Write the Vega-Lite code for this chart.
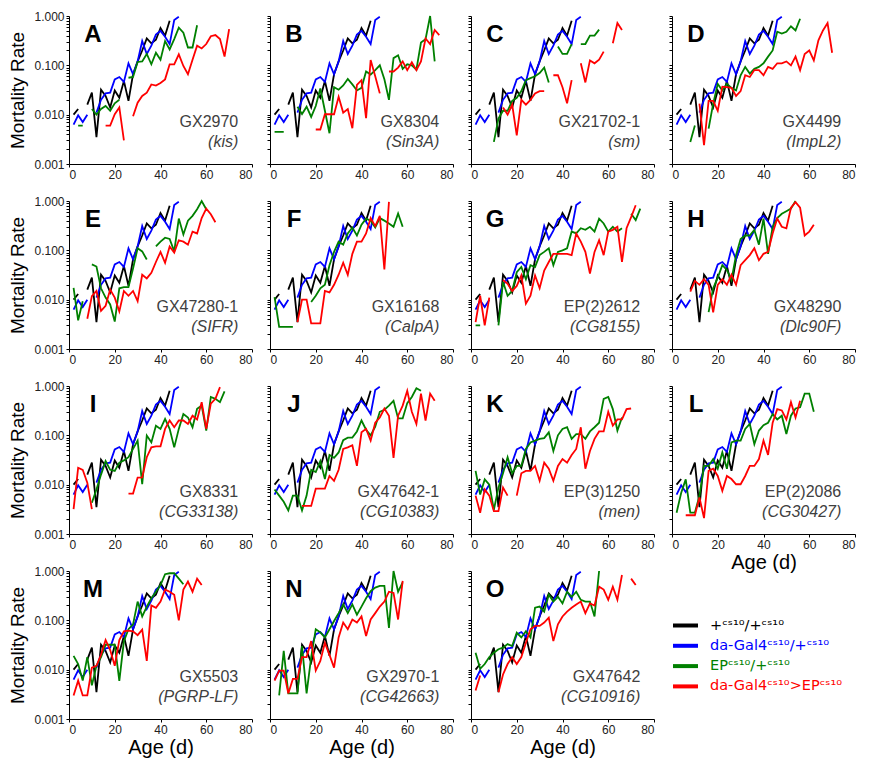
{
"$schema":"https://vega.github.io/schema/vega-lite/v6.json",
"padding":{"left":8,"top":10,"right":5,"bottom":5},
"columns":4,
"spacing":{"row":37,"column":18},
"bounds":"flush",
"datasets":{
"ctrl":[{"s":"a","a":2,"m":0.010},{"s":"a","a":4,"m":0.013},{"s":"a","a":6,"m":null},{"s":"a","a":8,"m":0.016},{"s":"a","a":10,"m":0.028},{"s":"a","a":12,"m":0.0035},{"s":"a","a":14,"m":0.032},{"s":"a","a":16,"m":0.024},{"s":"a","a":18,"m":0.014},{"s":"a","a":20,"m":0.031},{"s":"a","a":22,"m":0.022},{"s":"a","a":24,"m":0.048},{"s":"a","a":26,"m":0.019},{"s":"a","a":28,"m":0.066},{"s":"a","a":30,"m":0.12},{"s":"a","a":32,"m":0.2},{"s":"a","a":34,"m":0.35},{"s":"a","a":36,"m":0.28},{"s":"a","a":38,"m":0.33},{"s":"a","a":40,"m":0.57},{"s":"a","a":42,"m":0.4},{"s":"a","a":44,"m":0.8},
{"s":"b","a":2,"m":0.0063},{"s":"b","a":4,"m":0.0097},{"s":"b","a":6,"m":0.0071},{"s":"b","a":8,"m":0.0100},{"s":"b","a":10,"m":null},{"s":"b","a":12,"m":0.011},{"s":"b","a":14,"m":0.020},{"s":"b","a":16,"m":0.027},{"s":"b","a":18,"m":0.028},{"s":"b","a":20,"m":0.052},{"s":"b","a":22,"m":0.058},{"s":"b","a":24,"m":0.046},{"s":"b","a":26,"m":0.11},{"s":"b","a":28,"m":0.066},{"s":"b","a":30,"m":0.12},{"s":"b","a":32,"m":0.31},{"s":"b","a":34,"m":0.17},{"s":"b","a":36,"m":0.25},{"s":"b","a":38,"m":0.42},{"s":"b","a":40,"m":0.5},{"s":"b","a":42,"m":0.38},{"s":"b","a":44,"m":0.27},{"s":"b","a":46,"m":0.83},{"s":"b","a":48,"m":0.97}],
"A":[{"s":"c","a":4,"m":0.006},{"s":"c","a":6,"m":0.006},{"s":"c","a":8,"m":null},{"s":"c","a":10,"m":0.013},{"s":"c","a":12,"m":0.010},{"s":"c","a":14,"m":0.013},{"s":"c","a":16,"m":0.015},{"s":"c","a":18,"m":0.012},{"s":"c","a":20,"m":0.017},{"s":"c","a":22,"m":0.020},{"s":"c","a":24,"m":null},{"s":"c","a":26,"m":0.056},{"s":"c","a":28,"m":0.058},{"s":"c","a":30,"m":0.117},{"s":"c","a":32,"m":0.12},{"s":"c","a":34,"m":0.17},{"s":"c","a":36,"m":0.105},{"s":"c","a":38,"m":0.18},{"s":"c","a":40,"m":0.13},{"s":"c","a":42,"m":0.31},{"s":"c","a":44,"m":0.21},{"s":"c","a":46,"m":0.34},{"s":"c","a":48,"m":0.58},{"s":"c","a":50,"m":0.46},{"s":"c","a":52,"m":0.23},{"s":"c","a":54,"m":0.23},{"s":"c","a":56,"m":0.65},
{"s":"d","a":16,"m":0.006},{"s":"d","a":18,"m":0.006},{"s":"d","a":20,"m":0.0102},{"s":"d","a":22,"m":0.014},{"s":"d","a":24,"m":0.003},{"s":"d","a":26,"m":null},{"s":"d","a":28,"m":0.0093},{"s":"d","a":30,"m":0.0175},{"s":"d","a":32,"m":0.024},{"s":"d","a":34,"m":0.028},{"s":"d","a":36,"m":0.041},{"s":"d","a":38,"m":0.039},{"s":"d","a":40,"m":0.044},{"s":"d","a":42,"m":0.052},{"s":"d","a":44,"m":0.105},{"s":"d","a":46,"m":0.105},{"s":"d","a":48,"m":0.167},{"s":"d","a":50,"m":0.097},{"s":"d","a":52,"m":0.066},{"s":"d","a":54,"m":0.13},{"s":"d","a":56,"m":0.25},{"s":"d","a":58,"m":0.22},{"s":"d","a":60,"m":0.27},{"s":"d","a":62,"m":0.39},{"s":"d","a":64,"m":0.41},{"s":"d","a":66,"m":0.34},{"s":"d","a":68,"m":0.15},{"s":"d","a":70,"m":0.54}],
"B":[{"s":"c","a":2,"m":0.0045},{"s":"c","a":4,"m":0.0045},{"s":"c","a":6,"m":0.0045},{"s":"c","a":10,"m":null},{"s":"c","a":12,"m":0.0145},{"s":"c","a":14,"m":0.0103},{"s":"c","a":16,"m":0.0145},{"s":"c","a":18,"m":0.009},{"s":"c","a":20,"m":0.015},{"s":"c","a":22,"m":0.034},{"s":"c","a":24,"m":0.012},{"s":"c","a":26,"m":0.0042},{"s":"c","a":28,"m":0.036},{"s":"c","a":30,"m":0.032},{"s":"c","a":32,"m":0.039},{"s":"c","a":34,"m":0.053},{"s":"c","a":36,"m":0.041},{"s":"c","a":38,"m":0.031},{"s":"c","a":40,"m":0.035},{"s":"c","a":42,"m":0.075},{"s":"c","a":44,"m":0.065},{"s":"c","a":46,"m":0.08},{"s":"c","a":48,"m":0.1},{"s":"c","a":50,"m":0.052},{"s":"c","a":52,"m":0.02},{"s":"c","a":54,"m":0.14},{"s":"c","a":56,"m":0.16},{"s":"c","a":58,"m":0.085},{"s":"c","a":60,"m":0.105},{"s":"c","a":62,"m":0.1},{"s":"c","a":64,"m":0.082},{"s":"c","a":66,"m":0.29},{"s":"c","a":68,"m":0.34},{"s":"c","a":70,"m":1.0},{"s":"c","a":72,"m":0.12},
{"s":"d","a":20,"m":0.005},{"s":"d","a":22,"m":0.005},{"s":"d","a":24,"m":0.0102},{"s":"d","a":26,"m":0.0102},{"s":"d","a":28,"m":0.0102},{"s":"d","a":30,"m":0.023},{"s":"d","a":32,"m":0.011},{"s":"d","a":34,"m":0.013},{"s":"d","a":36,"m":0.0053},{"s":"d","a":38,"m":0.04},{"s":"d","a":40,"m":0.05},{"s":"d","a":42,"m":0.0085},{"s":"d","a":44,"m":0.128},{"s":"d","a":46,"m":0.06},{"s":"d","a":48,"m":0.027},{"s":"d","a":50,"m":null},{"s":"d","a":52,"m":0.075},{"s":"d","a":54,"m":0.075},{"s":"d","a":56,"m":0.09},{"s":"d","a":58,"m":0.12},{"s":"d","a":60,"m":0.08},{"s":"d","a":62,"m":0.115},{"s":"d","a":64,"m":0.08},{"s":"d","a":66,"m":0.12},{"s":"d","a":68,"m":0.35},{"s":"d","a":70,"m":0.27},{"s":"d","a":72,"m":0.52},{"s":"d","a":74,"m":0.41}],
"C":[{"s":"c","a":10,"m":0.0028},{"s":"c","a":12,"m":0.0083},{"s":"c","a":14,"m":0.012},{"s":"c","a":16,"m":0.012},{"s":"c","a":18,"m":0.019},{"s":"c","a":20,"m":0.022},{"s":"c","a":22,"m":0.03},{"s":"c","a":24,"m":0.05},{"s":"c","a":26,"m":0.055},{"s":"c","a":28,"m":0.06},{"s":"c","a":30,"m":0.07},{"s":"c","a":32,"m":0.09},{"s":"c","a":34,"m":0.045},{"s":"c","a":36,"m":null},{"s":"c","a":38,"m":0.24},{"s":"c","a":40,"m":0.17},{"s":"c","a":42,"m":0.17},{"s":"c","a":44,"m":0.27},{"s":"c","a":46,"m":null},{"s":"c","a":48,"m":0.27},{"s":"c","a":50,"m":0.27},{"s":"c","a":52,"m":0.4},{"s":"c","a":54,"m":0.4},{"s":"c","a":56,"m":0.53},
{"s":"d","a":14,"m":0.014},{"s":"d","a":16,"m":0.010},{"s":"d","a":18,"m":0.016},{"s":"d","a":20,"m":0.0038},{"s":"d","a":22,"m":0.02},{"s":"d","a":24,"m":0.016},{"s":"d","a":26,"m":0.02},{"s":"d","a":28,"m":0.027},{"s":"d","a":30,"m":0.03},{"s":"d","a":32,"m":0.03},{"s":"d","a":34,"m":null},{"s":"d","a":36,"m":0.063},{"s":"d","a":38,"m":0.063},{"s":"d","a":40,"m":0.036},{"s":"d","a":42,"m":0.017},{"s":"d","a":44,"m":0.05},{"s":"d","a":46,"m":null},{"s":"d","a":48,"m":0.11},{"s":"d","a":50,"m":0.045},{"s":"d","a":52,"m":0.126},{"s":"d","a":54,"m":0.11},{"s":"d","a":56,"m":0.13},{"s":"d","a":58,"m":0.19},{"s":"d","a":60,"m":null},{"s":"d","a":62,"m":0.28},{"s":"d","a":64,"m":0.72},{"s":"d","a":66,"m":0.52}],
"D":[{"s":"c","a":8,"m":0.0028},{"s":"c","a":10,"m":0.006},{"s":"c","a":12,"m":null},{"s":"c","a":16,"m":0.0052},{"s":"c","a":18,"m":0.0167},{"s":"c","a":20,"m":0.042},{"s":"c","a":22,"m":0.031},{"s":"c","a":24,"m":0.042},{"s":"c","a":26,"m":0.035},{"s":"c","a":28,"m":0.031},{"s":"c","a":30,"m":0.063},{"s":"c","a":32,"m":0.093},{"s":"c","a":34,"m":0.068},{"s":"c","a":36,"m":0.085},{"s":"c","a":38,"m":0.093},{"s":"c","a":40,"m":0.11},{"s":"c","a":42,"m":0.15},{"s":"c","a":44,"m":0.2},{"s":"c","a":46,"m":0.48},{"s":"c","a":48,"m":0.44},{"s":"c","a":50,"m":0.48},{"s":"c","a":52,"m":0.62},{"s":"c","a":54,"m":0.51},{"s":"c","a":56,"m":0.88},
{"s":"d","a":12,"m":0.0167},{"s":"d","a":14,"m":0.0024},{"s":"d","a":16,"m":0.019},{"s":"d","a":18,"m":0.019},{"s":"d","a":20,"m":0.012},{"s":"d","a":22,"m":0.037},{"s":"d","a":24,"m":0.036},{"s":"d","a":26,"m":0.035},{"s":"d","a":28,"m":0.024},{"s":"d","a":30,"m":0.03},{"s":"d","a":32,"m":0.063},{"s":"d","a":34,"m":0.058},{"s":"d","a":36,"m":0.08},{"s":"d","a":38,"m":0.08},{"s":"d","a":40,"m":0.063},{"s":"d","a":42,"m":0.093},{"s":"d","a":44,"m":0.085},{"s":"d","a":46,"m":0.11},{"s":"d","a":48,"m":0.11},{"s":"d","a":50,"m":0.12},{"s":"d","a":52,"m":0.1},{"s":"d","a":54,"m":0.15},{"s":"d","a":56,"m":0.08},{"s":"d","a":58,"m":0.17},{"s":"d","a":60,"m":0.2},{"s":"d","a":62,"m":0.126},{"s":"d","a":64,"m":0.32},{"s":"d","a":66,"m":0.51},{"s":"d","a":68,"m":0.72},{"s":"d","a":70,"m":0.18}],
"E":[{"s":"c","a":2,"m":0.0173},{"s":"c","a":4,"m":0.0038},{"s":"c","a":6,"m":0.0093},{"s":"c","a":8,"m":null},{"s":"c","a":10,"m":0.052},{"s":"c","a":12,"m":0.047},{"s":"c","a":14,"m":0.017},{"s":"c","a":16,"m":0.011},{"s":"c","a":18,"m":0.008},{"s":"c","a":20,"m":0.0036},{"s":"c","a":22,"m":0.017},{"s":"c","a":24,"m":0.018},{"s":"c","a":26,"m":0.018},{"s":"c","a":28,"m":0.043},{"s":"c","a":30,"m":0.11},{"s":"c","a":32,"m":0.095},{"s":"c","a":34,"m":0.065},{"s":"c","a":36,"m":null},{"s":"c","a":38,"m":0.12},{"s":"c","a":40,"m":0.15},{"s":"c","a":42,"m":0.18},{"s":"c","a":44,"m":0.17},{"s":"c","a":46,"m":0.095},{"s":"c","a":48,"m":0.44},{"s":"c","a":50,"m":0.21},{"s":"c","a":52,"m":0.4},{"s":"c","a":54,"m":0.5},{"s":"c","a":56,"m":0.68},{"s":"c","a":58,"m":1.0},{"s":"c","a":60,"m":0.68},
{"s":"d","a":8,"m":0.0041},{"s":"d","a":10,"m":0.0118},{"s":"d","a":12,"m":0.015},{"s":"d","a":14,"m":0.0059},{"s":"d","a":16,"m":0.0075},{"s":"d","a":18,"m":0.016},{"s":"d","a":20,"m":0.011},{"s":"d","a":22,"m":0.0058},{"s":"d","a":24,"m":0.015},{"s":"d","a":26,"m":0.012},{"s":"d","a":28,"m":0.015},{"s":"d","a":30,"m":0.0093},{"s":"d","a":32,"m":0.032},{"s":"d","a":34,"m":0.027},{"s":"d","a":36,"m":0.035},{"s":"d","a":38,"m":0.058},{"s":"d","a":40,"m":0.093},{"s":"d","a":42,"m":0.056},{"s":"d","a":44,"m":0.12},{"s":"d","a":46,"m":0.09},{"s":"d","a":48,"m":0.16},{"s":"d","a":50,"m":0.15},{"s":"d","a":52,"m":0.13},{"s":"d","a":54,"m":0.24},{"s":"d","a":56,"m":0.22},{"s":"d","a":58,"m":0.45},{"s":"d","a":60,"m":0.7},{"s":"d","a":62,"m":0.54},{"s":"d","a":64,"m":0.37}],
"F":[{"s":"c","a":2,"m":0.0113},{"s":"c","a":4,"m":0.0028},{"s":"c","a":6,"m":0.0028},{"s":"c","a":8,"m":0.0028},{"s":"c","a":10,"m":0.0028},{"s":"c","a":12,"m":null},{"s":"c","a":18,"m":0.009},{"s":"c","a":20,"m":0.012},{"s":"c","a":22,"m":0.017},{"s":"c","a":24,"m":0.02},{"s":"c","a":26,"m":0.05},{"s":"c","a":28,"m":0.093},{"s":"c","a":30,"m":0.15},{"s":"c","a":32,"m":0.13},{"s":"c","a":34,"m":0.22},{"s":"c","a":36,"m":0.29},{"s":"c","a":38,"m":0.2},{"s":"c","a":40,"m":0.33},{"s":"c","a":42,"m":0.44},{"s":"c","a":44,"m":0.4},{"s":"c","a":46,"m":0.29},{"s":"c","a":48,"m":0.45},{"s":"c","a":50,"m":0.4},{"s":"c","a":52,"m":0.35},{"s":"c","a":54,"m":0.3},{"s":"c","a":56,"m":0.56},{"s":"c","a":58,"m":0.3},
{"s":"d","a":12,"m":0.0035},{"s":"d","a":14,"m":0.01},{"s":"d","a":16,"m":0.01},{"s":"d","a":18,"m":0.0033},{"s":"d","a":20,"m":0.0033},{"s":"d","a":22,"m":0.0033},{"s":"d","a":24,"m":0.015},{"s":"d","a":26,"m":0.014},{"s":"d","a":28,"m":0.02},{"s":"d","a":30,"m":0.032},{"s":"d","a":32,"m":0.056},{"s":"d","a":34,"m":0.032},{"s":"d","a":36,"m":0.085},{"s":"d","a":38,"m":0.15},{"s":"d","a":40,"m":0.15},{"s":"d","a":42,"m":0.22},{"s":"d","a":44,"m":0.45},{"s":"d","a":46,"m":0.31},{"s":"d","a":48,"m":0.5},{"s":"d","a":50,"m":0.041},{"s":"d","a":52,"m":0.96}],
"G":[{"s":"c","a":2,"m":0.003},{"s":"c","a":4,"m":0.003},{"s":"c","a":6,"m":null},{"s":"c","a":12,"m":0.003},{"s":"c","a":14,"m":0.023},{"s":"c","a":16,"m":0.012},{"s":"c","a":18,"m":0.015},{"s":"c","a":20,"m":0.036},{"s":"c","a":22,"m":0.046},{"s":"c","a":24,"m":0.026},{"s":"c","a":26,"m":0.05},{"s":"c","a":28,"m":0.046},{"s":"c","a":30,"m":0.08},{"s":"c","a":32,"m":0.093},{"s":"c","a":34,"m":0.11},{"s":"c","a":36,"m":0.05},{"s":"c","a":38,"m":0.093},{"s":"c","a":40,"m":0.1},{"s":"c","a":42,"m":0.11},{"s":"c","a":44,"m":0.24},{"s":"c","a":46,"m":0.22},{"s":"c","a":48,"m":0.28},{"s":"c","a":50,"m":0.26},{"s":"c","a":52,"m":0.3},{"s":"c","a":54,"m":0.24},{"s":"c","a":56,"m":0.44},{"s":"c","a":58,"m":0.35},{"s":"c","a":60,"m":0.24},{"s":"c","a":62,"m":0.3},{"s":"c","a":64,"m":0.24},{"s":"c","a":66,"m":0.28},{"s":"c","a":68,"m":null},{"s":"c","a":70,"m":0.55},{"s":"c","a":72,"m":0.41},{"s":"c","a":74,"m":0.7},
{"s":"d","a":2,"m":0.0035},{"s":"d","a":4,"m":0.012},{"s":"d","a":6,"m":0.003},{"s":"d","a":8,"m":0.011},{"s":"d","a":10,"m":null},{"s":"d","a":14,"m":0.025},{"s":"d","a":16,"m":0.021},{"s":"d","a":18,"m":0.015},{"s":"d","a":20,"m":0.019},{"s":"d","a":22,"m":0.031},{"s":"d","a":24,"m":0.0083},{"s":"d","a":26,"m":0.012},{"s":"d","a":28,"m":0.031},{"s":"d","a":30,"m":0.017},{"s":"d","a":32,"m":0.039},{"s":"d","a":34,"m":0.058},{"s":"d","a":36,"m":0.085},{"s":"d","a":38,"m":0.085},{"s":"d","a":40,"m":0.085},{"s":"d","a":42,"m":0.085},{"s":"d","a":44,"m":0.08},{"s":"d","a":46,"m":0.22},{"s":"d","a":48,"m":0.15},{"s":"d","a":50,"m":0.093},{"s":"d","a":52,"m":0.034},{"s":"d","a":54,"m":0.093},{"s":"d","a":56,"m":0.16},{"s":"d","a":58,"m":0.08},{"s":"d","a":60,"m":0.24},{"s":"d","a":62,"m":0.26},{"s":"d","a":64,"m":0.3},{"s":"d","a":66,"m":0.058},{"s":"d","a":68,"m":0.28},{"s":"d","a":70,"m":0.47},{"s":"d","a":72,"m":0.82}],
"H":[{"s":"c","a":16,"m":0.0056},{"s":"c","a":18,"m":0.017},{"s":"c","a":20,"m":0.028},{"s":"c","a":22,"m":0.05},{"s":"c","a":24,"m":0.04},{"s":"c","a":26,"m":0.025},{"s":"c","a":28,"m":0.08},{"s":"c","a":30,"m":0.17},{"s":"c","a":32,"m":0.2},{"s":"c","a":34,"m":0.2},{"s":"c","a":36,"m":0.26},{"s":"c","a":38,"m":0.13},{"s":"c","a":40,"m":0.44},{"s":"c","a":42,"m":0.085},{"s":"c","a":44,"m":0.3},{"s":"c","a":46,"m":0.45},{"s":"c","a":48,"m":0.55},{"s":"c","a":50,"m":0.62},{"s":"c","a":52,"m":0.7},{"s":"c","a":54,"m":1.0},
{"s":"d","a":8,"m":0.0145},{"s":"d","a":10,"m":0.024},{"s":"d","a":12,"m":0.02},{"s":"d","a":14,"m":0.026},{"s":"d","a":16,"m":0.02},{"s":"d","a":18,"m":0.0055},{"s":"d","a":20,"m":0.02},{"s":"d","a":22,"m":0.026},{"s":"d","a":24,"m":0.02},{"s":"d","a":26,"m":0.032},{"s":"d","a":28,"m":0.02},{"s":"d","a":30,"m":0.05},{"s":"d","a":32,"m":0.063},{"s":"d","a":34,"m":0.08},{"s":"d","a":36,"m":0.11},{"s":"d","a":38,"m":0.063},{"s":"d","a":40,"m":0.085},{"s":"d","a":42,"m":0.093},{"s":"d","a":44,"m":0.22},{"s":"d","a":46,"m":0.44},{"s":"d","a":48,"m":0.3},{"s":"d","a":50,"m":0.28},{"s":"d","a":52,"m":0.73},{"s":"d","a":54,"m":0.95},{"s":"d","a":56,"m":0.73},{"s":"d","a":58,"m":0.2},{"s":"d","a":60,"m":0.24},{"s":"d","a":62,"m":0.33}],
"I":[{"s":"c","a":10,"m":0.0043},{"s":"c","a":12,"m":0.008},{"s":"c","a":14,"m":0.016},{"s":"c","a":16,"m":0.03},{"s":"c","a":18,"m":0.02},{"s":"c","a":20,"m":0.019},{"s":"c","a":22,"m":0.028},{"s":"c","a":24,"m":0.031},{"s":"c","a":26,"m":0.036},{"s":"c","a":28,"m":0.053},{"s":"c","a":30,"m":0.078},{"s":"c","a":32,"m":0.0102},{"s":"c","a":34,"m":0.099},{"s":"c","a":36,"m":0.072},{"s":"c","a":38,"m":0.157},{"s":"c","a":40,"m":0.135},{"s":"c","a":42,"m":0.215},{"s":"c","a":44,"m":0.135},{"s":"c","a":46,"m":0.057},{"s":"c","a":48,"m":0.135},{"s":"c","a":50,"m":0.27},{"s":"c","a":52,"m":0.23},{"s":"c","a":54,"m":0.146},{"s":"c","a":56,"m":0.345},{"s":"c","a":58,"m":0.4},{"s":"c","a":60,"m":0.125},{"s":"c","a":62,"m":0.6},{"s":"c","a":64,"m":0.55},{"s":"c","a":66,"m":0.47},{"s":"c","a":68,"m":0.78},
{"s":"d","a":2,"m":0.0032},{"s":"d","a":4,"m":0.022},{"s":"d","a":6,"m":0.02},{"s":"d","a":8,"m":0.011},{"s":"d","a":10,"m":0.0032},{"s":"d","a":12,"m":null},{"s":"d","a":26,"m":0.0066},{"s":"d","a":28,"m":0.0066},{"s":"d","a":30,"m":0.0139},{"s":"d","a":32,"m":0.014},{"s":"d","a":34,"m":0.036},{"s":"d","a":36,"m":0.057},{"s":"d","a":38,"m":0.06},{"s":"d","a":40,"m":0.06},{"s":"d","a":42,"m":0.135},{"s":"d","a":44,"m":0.2},{"s":"d","a":46,"m":0.146},{"s":"d","a":48,"m":0.2},{"s":"d","a":50,"m":0.2},{"s":"d","a":52,"m":0.17},{"s":"d","a":54,"m":0.25},{"s":"d","a":56,"m":0.21},{"s":"d","a":58,"m":0.47},{"s":"d","a":60,"m":0.135},{"s":"d","a":62,"m":0.44},{"s":"d","a":64,"m":0.55},{"s":"d","a":66,"m":0.95}],
"J":[{"s":"c","a":2,"m":0.008},{"s":"c","a":4,"m":0.006},{"s":"c","a":6,"m":0.0045},{"s":"c","a":8,"m":0.003},{"s":"c","a":10,"m":0.006},{"s":"c","a":12,"m":0.006},{"s":"c","a":14,"m":0.003},{"s":"c","a":16,"m":0.006},{"s":"c","a":18,"m":0.02},{"s":"c","a":20,"m":0.018},{"s":"c","a":22,"m":0.03},{"s":"c","a":24,"m":0.013},{"s":"c","a":26,"m":0.04},{"s":"c","a":28,"m":0.035},{"s":"c","a":30,"m":0.045},{"s":"c","a":32,"m":0.08},{"s":"c","a":34,"m":0.09},{"s":"c","a":36,"m":0.09},{"s":"c","a":38,"m":0.12},{"s":"c","a":40,"m":0.2},{"s":"c","a":42,"m":0.13},{"s":"c","a":44,"m":0.1},{"s":"c","a":46,"m":0.15},{"s":"c","a":48,"m":0.3},{"s":"c","a":50,"m":0.33},{"s":"c","a":52,"m":0.4},{"s":"c","a":54,"m":0.5},{"s":"c","a":56,"m":0.22},{"s":"c","a":58,"m":0.22},{"s":"c","a":60,"m":0.45},{"s":"c","a":62,"m":0.6},{"s":"c","a":64,"m":0.9},{"s":"c","a":66,"m":0.8},
{"s":"d","a":14,"m":0.0037},{"s":"d","a":16,"m":0.0037},{"s":"d","a":18,"m":0.0037},{"s":"d","a":20,"m":0.0083},{"s":"d","a":22,"m":0.0083},{"s":"d","a":24,"m":0.0083},{"s":"d","a":26,"m":0.015},{"s":"d","a":28,"m":0.012},{"s":"d","a":30,"m":0.02},{"s":"d","a":32,"m":0.053},{"s":"d","a":34,"m":0.057},{"s":"d","a":36,"m":0.063},{"s":"d","a":38,"m":0.024},{"s":"d","a":40,"m":0.115},{"s":"d","a":42,"m":0.135},{"s":"d","a":44,"m":0.078},{"s":"d","a":46,"m":0.18},{"s":"d","a":48,"m":0.23},{"s":"d","a":50,"m":0.35},{"s":"d","a":52,"m":0.25},{"s":"d","a":54,"m":0.035},{"s":"d","a":56,"m":0.25},{"s":"d","a":58,"m":0.4},{"s":"d","a":60,"m":0.8},{"s":"d","a":62,"m":0.3},{"s":"d","a":64,"m":0.17},{"s":"d","a":66,"m":0.7},{"s":"d","a":68,"m":0.2},{"s":"d","a":70,"m":0.7},{"s":"d","a":72,"m":0.5}],
"K":[{"s":"c","a":2,"m":0.019},{"s":"c","a":4,"m":0.0063},{"s":"c","a":6,"m":0.0128},{"s":"c","a":8,"m":0.01},{"s":"c","a":10,"m":0.0031},{"s":"c","a":12,"m":0.0087},{"s":"c","a":14,"m":0.017},{"s":"c","a":16,"m":0.036},{"s":"c","a":18,"m":0.017},{"s":"c","a":20,"m":0.024},{"s":"c","a":22,"m":0.024},{"s":"c","a":24,"m":0.053},{"s":"c","a":26,"m":0.072},{"s":"c","a":28,"m":0.078},{"s":"c","a":30,"m":0.085},{"s":"c","a":32,"m":0.088},{"s":"c","a":34,"m":0.115},{"s":"c","a":36,"m":0.048},{"s":"c","a":38,"m":0.1},{"s":"c","a":40,"m":0.135},{"s":"c","a":42,"m":0.146},{"s":"c","a":44,"m":0.085},{"s":"c","a":46,"m":0.106},{"s":"c","a":48,"m":0.106},{"s":"c","a":50,"m":0.085},{"s":"c","a":52,"m":0.12},{"s":"c","a":54,"m":0.146},{"s":"c","a":56,"m":0.18},{"s":"c","a":58,"m":0.55},{"s":"c","a":60,"m":0.6},{"s":"c","a":62,"m":0.34},{"s":"c","a":64,"m":0.125},{"s":"c","a":66,"m":0.23},
{"s":"d","a":2,"m":0.006},{"s":"d","a":4,"m":0.0027},{"s":"d","a":6,"m":0.008},{"s":"d","a":8,"m":0.006},{"s":"d","a":10,"m":0.0029},{"s":"d","a":12,"m":0.0029},{"s":"d","a":14,"m":0.0087},{"s":"d","a":16,"m":0.006},{"s":"d","a":18,"m":null},{"s":"d","a":20,"m":0.006},{"s":"d","a":22,"m":0.017},{"s":"d","a":24,"m":0.019},{"s":"d","a":26,"m":0.019},{"s":"d","a":28,"m":0.024},{"s":"d","a":30,"m":0.012},{"s":"d","a":32,"m":0.028},{"s":"d","a":34,"m":0.021},{"s":"d","a":36,"m":0.012},{"s":"d","a":38,"m":0.024},{"s":"d","a":40,"m":0.033},{"s":"d","a":42,"m":0.028},{"s":"d","a":44,"m":0.04},{"s":"d","a":46,"m":0.053},{"s":"d","a":48,"m":0.146},{"s":"d","a":50,"m":0.021},{"s":"d","a":52,"m":0.048},{"s":"d","a":54,"m":0.085},{"s":"d","a":56,"m":0.12},{"s":"d","a":58,"m":0.12},{"s":"d","a":60,"m":0.3},{"s":"d","a":62,"m":0.157},{"s":"d","a":64,"m":0.21},{"s":"d","a":66,"m":0.21},{"s":"d","a":68,"m":0.34},{"s":"d","a":70,"m":0.35}],
"L":[{"s":"c","a":2,"m":0.0027},{"s":"c","a":4,"m":0.0068},{"s":"c","a":6,"m":0.0128},{"s":"c","a":8,"m":0.0027},{"s":"c","a":10,"m":0.0027},{"s":"c","a":12,"m":0.006},{"s":"c","a":14,"m":0.024},{"s":"c","a":16,"m":0.024},{"s":"c","a":18,"m":0.033},{"s":"c","a":20,"m":0.021},{"s":"c","a":22,"m":0.045},{"s":"c","a":24,"m":0.021},{"s":"c","a":26,"m":0.072},{"s":"c","a":28,"m":0.078},{"s":"c","a":30,"m":0.078},{"s":"c","a":32,"m":0.135},{"s":"c","a":34,"m":0.17},{"s":"c","a":36,"m":0.066},{"s":"c","a":38,"m":0.125},{"s":"c","a":40,"m":0.16},{"s":"c","a":42,"m":0.18},{"s":"c","a":44,"m":0.27},{"s":"c","a":46,"m":0.21},{"s":"c","a":48,"m":0.25},{"s":"c","a":50,"m":0.106},{"s":"c","a":52,"m":0.25},{"s":"c","a":54,"m":0.35},{"s":"c","a":56,"m":0.37},{"s":"c","a":58,"m":0.7},{"s":"c","a":60,"m":0.7},{"s":"c","a":62,"m":0.3},
{"s":"d","a":6,"m":0.0024},{"s":"d","a":8,"m":0.0024},{"s":"d","a":10,"m":0.0024},{"s":"d","a":12,"m":0.0055},{"s":"d","a":14,"m":0.0021},{"s":"d","a":16,"m":0.019},{"s":"d","a":18,"m":0.021},{"s":"d","a":20,"m":0.015},{"s":"d","a":22,"m":0.0075},{"s":"d","a":24,"m":0.015},{"s":"d","a":26,"m":0.013},{"s":"d","a":28,"m":0.0102},{"s":"d","a":30,"m":0.0102},{"s":"d","a":32,"m":0.015},{"s":"d","a":34,"m":0.024},{"s":"d","a":36,"m":0.024},{"s":"d","a":38,"m":0.033},{"s":"d","a":40,"m":0.078},{"s":"d","a":42,"m":0.04},{"s":"d","a":44,"m":0.18},{"s":"d","a":46,"m":0.34},{"s":"d","a":48,"m":0.32},{"s":"d","a":50,"m":0.21},{"s":"d","a":52,"m":0.47},{"s":"d","a":54,"m":0.23},{"s":"d","a":56,"m":0.5}],
"M":[{"s":"c","a":2,"m":0.019},{"s":"c","a":4,"m":0.013},{"s":"c","a":6,"m":0.006},{"s":"c","a":8,"m":0.018},{"s":"c","a":10,"m":0.0048},{"s":"c","a":12,"m":0.012},{"s":"c","a":14,"m":0.018},{"s":"c","a":16,"m":0.032},{"s":"c","a":18,"m":0.032},{"s":"c","a":20,"m":0.032},{"s":"c","a":22,"m":0.0059},{"s":"c","a":24,"m":0.038},{"s":"c","a":26,"m":0.066},{"s":"c","a":28,"m":0.083},{"s":"c","a":30,"m":0.24},{"s":"c","a":32,"m":0.12},{"s":"c","a":34,"m":0.19},{"s":"c","a":36,"m":0.28},{"s":"c","a":38,"m":0.38},{"s":"c","a":40,"m":0.52},{"s":"c","a":42,"m":0.86},{"s":"c","a":44,"m":0.9},{"s":"c","a":46,"m":0.9},{"s":"c","a":48,"m":0.7},{"s":"c","a":50,"m":0.54},
{"s":"d","a":2,"m":0.003},{"s":"d","a":4,"m":0.006},{"s":"d","a":6,"m":0.003},{"s":"d","a":8,"m":0.003},{"s":"d","a":10,"m":0.011},{"s":"d","a":12,"m":0.012},{"s":"d","a":14,"m":0.02},{"s":"d","a":16,"m":0.04},{"s":"d","a":18,"m":0.025},{"s":"d","a":20,"m":0.012},{"s":"d","a":22,"m":0.04},{"s":"d","a":24,"m":0.06},{"s":"d","a":26,"m":0.062},{"s":"d","a":28,"m":0.06},{"s":"d","a":30,"m":0.05},{"s":"d","a":32,"m":0.065},{"s":"d","a":34,"m":0.015},{"s":"d","a":36,"m":0.2},{"s":"d","a":38,"m":0.18},{"s":"d","a":40,"m":0.24},{"s":"d","a":42,"m":0.42},{"s":"d","a":44,"m":0.38},{"s":"d","a":46,"m":0.33},{"s":"d","a":48,"m":0.1},{"s":"d","a":50,"m":0.42},{"s":"d","a":52,"m":0.61},{"s":"d","a":54,"m":0.38},{"s":"d","a":56,"m":0.7},{"s":"d","a":58,"m":0.52}],
"N":[{"s":"c","a":4,"m":0.003},{"s":"c","a":6,"m":0.024},{"s":"c","a":8,"m":0.0033},{"s":"c","a":10,"m":0.0033},{"s":"c","a":12,"m":0.0033},{"s":"c","a":14,"m":0.03},{"s":"c","a":16,"m":0.0033},{"s":"c","a":18,"m":0.018},{"s":"c","a":20,"m":0.066},{"s":"c","a":22,"m":0.057},{"s":"c","a":24,"m":0.045},{"s":"c","a":26,"m":0.066},{"s":"c","a":28,"m":0.097},{"s":"c","a":30,"m":0.14},{"s":"c","a":32,"m":0.21},{"s":"c","a":34,"m":0.14},{"s":"c","a":36,"m":0.21},{"s":"c","a":38,"m":0.13},{"s":"c","a":40,"m":0.19},{"s":"c","a":42,"m":0.28},{"s":"c","a":44,"m":0.39},{"s":"c","a":46,"m":0.46},{"s":"c","a":48,"m":0.5},{"s":"c","a":50,"m":0.5},{"s":"c","a":52,"m":0.07},{"s":"c","a":54,"m":1.0},{"s":"c","a":56,"m":0.38},{"s":"c","a":58,"m":0.59},
{"s":"d","a":2,"m":0.006},{"s":"d","a":4,"m":0.0096},{"s":"d","a":6,"m":0.0096},{"s":"d","a":8,"m":0.0033},{"s":"d","a":10,"m":0.0065},{"s":"d","a":12,"m":0.0065},{"s":"d","a":14,"m":0.018},{"s":"d","a":16,"m":0.018},{"s":"d","a":18,"m":0.038},{"s":"d","a":20,"m":0.0096},{"s":"d","a":22,"m":0.015},{"s":"d","a":24,"m":0.035},{"s":"d","a":26,"m":0.02},{"s":"d","a":28,"m":0.011},{"s":"d","a":30,"m":0.045},{"s":"d","a":32,"m":0.09},{"s":"d","a":34,"m":0.066},{"s":"d","a":36,"m":0.104},{"s":"d","a":38,"m":0.09},{"s":"d","a":40,"m":0.12},{"s":"d","a":42,"m":0.048},{"s":"d","a":44,"m":0.104},{"s":"d","a":46,"m":0.14},{"s":"d","a":48,"m":0.19},{"s":"d","a":50,"m":0.24},{"s":"d","a":52,"m":0.38},{"s":"d","a":54,"m":0.36},{"s":"d","a":56,"m":0.104},{"s":"d","a":58,"m":0.63}],
"O":[{"s":"c","a":2,"m":0.022},{"s":"c","a":4,"m":0.0104},{"s":"c","a":6,"m":0.013},{"s":"c","a":8,"m":0.018},{"s":"c","a":10,"m":0.022},{"s":"c","a":12,"m":0.026},{"s":"c","a":14,"m":0.028},{"s":"c","a":16,"m":0.033},{"s":"c","a":18,"m":0.03},{"s":"c","a":20,"m":0.056},{"s":"c","a":22,"m":0.045},{"s":"c","a":24,"m":0.06},{"s":"c","a":26,"m":0.045},{"s":"c","a":28,"m":0.18},{"s":"c","a":30,"m":0.19},{"s":"c","a":32,"m":0.15},{"s":"c","a":34,"m":0.33},{"s":"c","a":36,"m":0.24},{"s":"c","a":38,"m":0.3},{"s":"c","a":40,"m":0.22},{"s":"c","a":42,"m":0.38},{"s":"c","a":44,"m":0.3},{"s":"c","a":46,"m":0.38},{"s":"c","a":48,"m":0.26},{"s":"c","a":50,"m":0.24},{"s":"c","a":52,"m":0.24},{"s":"c","a":54,"m":0.12},{"s":"c","a":56,"m":1.0},
{"s":"d","a":2,"m":0.0038},{"s":"d","a":4,"m":0.0076},{"s":"d","a":6,"m":null},{"s":"d","a":12,"m":0.0035},{"s":"d","a":14,"m":0.008},{"s":"d","a":16,"m":0.013},{"s":"d","a":18,"m":0.018},{"s":"d","a":20,"m":0.013},{"s":"d","a":22,"m":0.018},{"s":"d","a":24,"m":0.035},{"s":"d","a":26,"m":0.066},{"s":"d","a":28,"m":0.077},{"s":"d","a":30,"m":0.077},{"s":"d","a":32,"m":0.09},{"s":"d","a":34,"m":0.113},{"s":"d","a":36,"m":0.038},{"s":"d","a":38,"m":0.083},{"s":"d","a":40,"m":0.12},{"s":"d","a":42,"m":0.15},{"s":"d","a":44,"m":0.18},{"s":"d","a":46,"m":0.21},{"s":"d","a":48,"m":0.24},{"s":"d","a":50,"m":0.14},{"s":"d","a":52,"m":0.22},{"s":"d","a":54,"m":0.2},{"s":"d","a":56,"m":0.48},{"s":"d","a":58,"m":0.42},{"s":"d","a":60,"m":0.26},{"s":"d","a":62,"m":0.48},{"s":"d","a":64,"m":0.26},{"s":"d","a":66,"m":0.83},{"s":"d","a":68,"m":null},{"s":"d","a":70,"m":0.7},{"s":"d","a":72,"m":0.52}]
},
"concat":[
{"width":183,"height":148,"layer":[
{"data":{"name":"ctrl"},"mark":{"type":"line","strokeWidth":1.8,"invalid":"break-paths-filter-domains"},"encoding":{"x":{"field":"a","type":"quantitative","scale":{"domain":[0,80],"nice":false},"axis":{"title":null}},"y":{"field":"m","type":"quantitative","scale":{"type":"log","domain":[0.001,1],"nice":false},"axis":{"values":[0.001,0.002,0.003,0.004,0.005,0.006,0.007,0.008,0.009,0.01,0.02,0.03,0.04,0.05,0.06,0.07,0.08,0.09,0.1,0.2,0.3,0.4,0.5,0.6,0.7,0.8,0.9,1],"labelExpr":"datum.value==0.001||datum.value==0.01||datum.value==0.1||datum.value==1?format(datum.value,'.3f'):''","title":"Mortality Rate"}},"color":{"field":"s","type":"nominal","scale":{"domain":["a","b","c","d"],"range":["#000000","#0000ff","#008000","#ff0000"]},"legend":{"orient":"none","legendX":608,"legendY":601,"title":null,"symbolType":"M-2,0H2","symbolSize":156,"symbolStrokeWidth":4,"labelFont":"DejaVu Sans","labelFontSize":14.5,"labelOffset":16,"rowPadding":3.3,"labelLimit":400,"labelExpr":"datum.value=='a'?'+ᶜˢ¹⁰/+ᶜˢ¹⁰':datum.value=='b'?'da-Gal4ᶜˢ¹⁰/+ᶜˢ¹⁰':datum.value=='c'?'EPᶜˢ¹⁰/+ᶜˢ¹⁰':'da-Gal4ᶜˢ¹⁰>EPᶜˢ¹⁰'","labelColor":{"expr":"datum.value=='a'?'#000000':datum.value=='b'?'#0000ff':datum.value=='c'?'#008000':'#ff0000'"}}}}},
{"data":{"name":"A"},"mark":{"type":"line","strokeWidth":1.8,"invalid":"break-paths-filter-domains"},"encoding":{"x":{"field":"a","type":"quantitative"},"y":{"field":"m","type":"quantitative"},"color":{"field":"s","type":"nominal"}}},
{"data":{"values":[{"p":"A","n":"GX2970","g":"(kis)"}]},"layer":[
{"mark":{"type":"text","fontSize":24,"fontWeight":"bold","align":"center","baseline":"alphabetic"},"encoding":{"x":{"datum":10.5},"y":{"datum":0.3},"text":{"field":"p"}}},
{"mark":{"type":"text","fontSize":16,"align":"right","baseline":"alphabetic","color":"#404040"},"encoding":{"x":{"datum":74},"y":{"datum":0.0055},"text":{"field":"n"}}},
{"mark":{"type":"text","fontSize":16,"align":"right","baseline":"alphabetic","fontStyle":"italic","color":"#404040"},"encoding":{"x":{"datum":74},"y":{"datum":0.0022},"text":{"field":"g"}}}]}]},
{"width":183,"height":148,"layer":[
{"data":{"name":"ctrl"},"mark":{"type":"line","strokeWidth":1.8,"invalid":"break-paths-filter-domains"},"encoding":{"x":{"field":"a","type":"quantitative","scale":{"domain":[0,80],"nice":false},"axis":{"title":null}},"y":{"field":"m","type":"quantitative","scale":{"type":"log","domain":[0.001,1],"nice":false},"axis":{"values":[0.001,0.002,0.003,0.004,0.005,0.006,0.007,0.008,0.009,0.01,0.02,0.03,0.04,0.05,0.06,0.07,0.08,0.09,0.1,0.2,0.3,0.4,0.5,0.6,0.7,0.8,0.9,1],"labels":false,"title":null}},"color":{"field":"s","type":"nominal"}}},
{"data":{"name":"B"},"mark":{"type":"line","strokeWidth":1.8,"invalid":"break-paths-filter-domains"},"encoding":{"x":{"field":"a","type":"quantitative"},"y":{"field":"m","type":"quantitative"},"color":{"field":"s","type":"nominal"}}},
{"data":{"values":[{"p":"B","n":"GX8304","g":"(Sin3A)"}]},"layer":[
{"mark":{"type":"text","fontSize":24,"fontWeight":"bold","align":"center","baseline":"alphabetic"},"encoding":{"x":{"datum":10.5},"y":{"datum":0.3},"text":{"field":"p"}}},
{"mark":{"type":"text","fontSize":16,"align":"right","baseline":"alphabetic","color":"#404040"},"encoding":{"x":{"datum":74},"y":{"datum":0.0055},"text":{"field":"n"}}},
{"mark":{"type":"text","fontSize":16,"align":"right","baseline":"alphabetic","fontStyle":"italic","color":"#404040"},"encoding":{"x":{"datum":74},"y":{"datum":0.0022},"text":{"field":"g"}}}]}]},
{"width":183,"height":148,"layer":[
{"data":{"name":"ctrl"},"mark":{"type":"line","strokeWidth":1.8,"invalid":"break-paths-filter-domains"},"encoding":{"x":{"field":"a","type":"quantitative","scale":{"domain":[0,80],"nice":false},"axis":{"title":null}},"y":{"field":"m","type":"quantitative","scale":{"type":"log","domain":[0.001,1],"nice":false},"axis":{"values":[0.001,0.002,0.003,0.004,0.005,0.006,0.007,0.008,0.009,0.01,0.02,0.03,0.04,0.05,0.06,0.07,0.08,0.09,0.1,0.2,0.3,0.4,0.5,0.6,0.7,0.8,0.9,1],"labels":false,"title":null}},"color":{"field":"s","type":"nominal"}}},
{"data":{"name":"C"},"mark":{"type":"line","strokeWidth":1.8,"invalid":"break-paths-filter-domains"},"encoding":{"x":{"field":"a","type":"quantitative"},"y":{"field":"m","type":"quantitative"},"color":{"field":"s","type":"nominal"}}},
{"data":{"values":[{"p":"C","n":"GX21702-1","g":"(sm)"}]},"layer":[
{"mark":{"type":"text","fontSize":24,"fontWeight":"bold","align":"center","baseline":"alphabetic"},"encoding":{"x":{"datum":10.5},"y":{"datum":0.3},"text":{"field":"p"}}},
{"mark":{"type":"text","fontSize":16,"align":"right","baseline":"alphabetic","color":"#404040"},"encoding":{"x":{"datum":74},"y":{"datum":0.0055},"text":{"field":"n"}}},
{"mark":{"type":"text","fontSize":16,"align":"right","baseline":"alphabetic","fontStyle":"italic","color":"#404040"},"encoding":{"x":{"datum":74},"y":{"datum":0.0022},"text":{"field":"g"}}}]}]},
{"width":183,"height":148,"layer":[
{"data":{"name":"ctrl"},"mark":{"type":"line","strokeWidth":1.8,"invalid":"break-paths-filter-domains"},"encoding":{"x":{"field":"a","type":"quantitative","scale":{"domain":[0,80],"nice":false},"axis":{"title":null}},"y":{"field":"m","type":"quantitative","scale":{"type":"log","domain":[0.001,1],"nice":false},"axis":{"values":[0.001,0.002,0.003,0.004,0.005,0.006,0.007,0.008,0.009,0.01,0.02,0.03,0.04,0.05,0.06,0.07,0.08,0.09,0.1,0.2,0.3,0.4,0.5,0.6,0.7,0.8,0.9,1],"labels":false,"title":null}},"color":{"field":"s","type":"nominal"}}},
{"data":{"name":"D"},"mark":{"type":"line","strokeWidth":1.8,"invalid":"break-paths-filter-domains"},"encoding":{"x":{"field":"a","type":"quantitative"},"y":{"field":"m","type":"quantitative"},"color":{"field":"s","type":"nominal"}}},
{"data":{"values":[{"p":"D","n":"GX4499","g":"(ImpL2)"}]},"layer":[
{"mark":{"type":"text","fontSize":24,"fontWeight":"bold","align":"center","baseline":"alphabetic"},"encoding":{"x":{"datum":10.5},"y":{"datum":0.3},"text":{"field":"p"}}},
{"mark":{"type":"text","fontSize":16,"align":"right","baseline":"alphabetic","color":"#404040"},"encoding":{"x":{"datum":74},"y":{"datum":0.0055},"text":{"field":"n"}}},
{"mark":{"type":"text","fontSize":16,"align":"right","baseline":"alphabetic","fontStyle":"italic","color":"#404040"},"encoding":{"x":{"datum":74},"y":{"datum":0.0022},"text":{"field":"g"}}}]}]},
{"width":183,"height":148,"layer":[
{"data":{"name":"ctrl"},"mark":{"type":"line","strokeWidth":1.8,"invalid":"break-paths-filter-domains"},"encoding":{"x":{"field":"a","type":"quantitative","scale":{"domain":[0,80],"nice":false},"axis":{"title":null}},"y":{"field":"m","type":"quantitative","scale":{"type":"log","domain":[0.001,1],"nice":false},"axis":{"values":[0.001,0.002,0.003,0.004,0.005,0.006,0.007,0.008,0.009,0.01,0.02,0.03,0.04,0.05,0.06,0.07,0.08,0.09,0.1,0.2,0.3,0.4,0.5,0.6,0.7,0.8,0.9,1],"labelExpr":"datum.value==0.001||datum.value==0.01||datum.value==0.1||datum.value==1?format(datum.value,'.3f'):''","title":"Mortality Rate"}},"color":{"field":"s","type":"nominal"}}},
{"data":{"name":"E"},"mark":{"type":"line","strokeWidth":1.8,"invalid":"break-paths-filter-domains"},"encoding":{"x":{"field":"a","type":"quantitative"},"y":{"field":"m","type":"quantitative"},"color":{"field":"s","type":"nominal"}}},
{"data":{"values":[{"p":"E","n":"GX47280-1","g":"(SIFR)"}]},"layer":[
{"mark":{"type":"text","fontSize":24,"fontWeight":"bold","align":"center","baseline":"alphabetic"},"encoding":{"x":{"datum":10.5},"y":{"datum":0.3},"text":{"field":"p"}}},
{"mark":{"type":"text","fontSize":16,"align":"right","baseline":"alphabetic","color":"#404040"},"encoding":{"x":{"datum":74},"y":{"datum":0.0055},"text":{"field":"n"}}},
{"mark":{"type":"text","fontSize":16,"align":"right","baseline":"alphabetic","fontStyle":"italic","color":"#404040"},"encoding":{"x":{"datum":74},"y":{"datum":0.0022},"text":{"field":"g"}}}]}]},
{"width":183,"height":148,"layer":[
{"data":{"name":"ctrl"},"mark":{"type":"line","strokeWidth":1.8,"invalid":"break-paths-filter-domains"},"encoding":{"x":{"field":"a","type":"quantitative","scale":{"domain":[0,80],"nice":false},"axis":{"title":null}},"y":{"field":"m","type":"quantitative","scale":{"type":"log","domain":[0.001,1],"nice":false},"axis":{"values":[0.001,0.002,0.003,0.004,0.005,0.006,0.007,0.008,0.009,0.01,0.02,0.03,0.04,0.05,0.06,0.07,0.08,0.09,0.1,0.2,0.3,0.4,0.5,0.6,0.7,0.8,0.9,1],"labels":false,"title":null}},"color":{"field":"s","type":"nominal"}}},
{"data":{"name":"F"},"mark":{"type":"line","strokeWidth":1.8,"invalid":"break-paths-filter-domains"},"encoding":{"x":{"field":"a","type":"quantitative"},"y":{"field":"m","type":"quantitative"},"color":{"field":"s","type":"nominal"}}},
{"data":{"values":[{"p":"F","n":"GX16168","g":"(CalpA)"}]},"layer":[
{"mark":{"type":"text","fontSize":24,"fontWeight":"bold","align":"center","baseline":"alphabetic"},"encoding":{"x":{"datum":10.5},"y":{"datum":0.3},"text":{"field":"p"}}},
{"mark":{"type":"text","fontSize":16,"align":"right","baseline":"alphabetic","color":"#404040"},"encoding":{"x":{"datum":74},"y":{"datum":0.0055},"text":{"field":"n"}}},
{"mark":{"type":"text","fontSize":16,"align":"right","baseline":"alphabetic","fontStyle":"italic","color":"#404040"},"encoding":{"x":{"datum":74},"y":{"datum":0.0022},"text":{"field":"g"}}}]}]},
{"width":183,"height":148,"layer":[
{"data":{"name":"ctrl"},"mark":{"type":"line","strokeWidth":1.8,"invalid":"break-paths-filter-domains"},"encoding":{"x":{"field":"a","type":"quantitative","scale":{"domain":[0,80],"nice":false},"axis":{"title":null}},"y":{"field":"m","type":"quantitative","scale":{"type":"log","domain":[0.001,1],"nice":false},"axis":{"values":[0.001,0.002,0.003,0.004,0.005,0.006,0.007,0.008,0.009,0.01,0.02,0.03,0.04,0.05,0.06,0.07,0.08,0.09,0.1,0.2,0.3,0.4,0.5,0.6,0.7,0.8,0.9,1],"labels":false,"title":null}},"color":{"field":"s","type":"nominal"}}},
{"data":{"name":"G"},"mark":{"type":"line","strokeWidth":1.8,"invalid":"break-paths-filter-domains"},"encoding":{"x":{"field":"a","type":"quantitative"},"y":{"field":"m","type":"quantitative"},"color":{"field":"s","type":"nominal"}}},
{"data":{"values":[{"p":"G","n":"EP(2)2612","g":"(CG8155)"}]},"layer":[
{"mark":{"type":"text","fontSize":24,"fontWeight":"bold","align":"center","baseline":"alphabetic"},"encoding":{"x":{"datum":10.5},"y":{"datum":0.3},"text":{"field":"p"}}},
{"mark":{"type":"text","fontSize":16,"align":"right","baseline":"alphabetic","color":"#404040"},"encoding":{"x":{"datum":74},"y":{"datum":0.0055},"text":{"field":"n"}}},
{"mark":{"type":"text","fontSize":16,"align":"right","baseline":"alphabetic","fontStyle":"italic","color":"#404040"},"encoding":{"x":{"datum":74},"y":{"datum":0.0022},"text":{"field":"g"}}}]}]},
{"width":183,"height":148,"layer":[
{"data":{"name":"ctrl"},"mark":{"type":"line","strokeWidth":1.8,"invalid":"break-paths-filter-domains"},"encoding":{"x":{"field":"a","type":"quantitative","scale":{"domain":[0,80],"nice":false},"axis":{"title":null}},"y":{"field":"m","type":"quantitative","scale":{"type":"log","domain":[0.001,1],"nice":false},"axis":{"values":[0.001,0.002,0.003,0.004,0.005,0.006,0.007,0.008,0.009,0.01,0.02,0.03,0.04,0.05,0.06,0.07,0.08,0.09,0.1,0.2,0.3,0.4,0.5,0.6,0.7,0.8,0.9,1],"labels":false,"title":null}},"color":{"field":"s","type":"nominal"}}},
{"data":{"name":"H"},"mark":{"type":"line","strokeWidth":1.8,"invalid":"break-paths-filter-domains"},"encoding":{"x":{"field":"a","type":"quantitative"},"y":{"field":"m","type":"quantitative"},"color":{"field":"s","type":"nominal"}}},
{"data":{"values":[{"p":"H","n":"GX48290","g":"(Dlc90F)"}]},"layer":[
{"mark":{"type":"text","fontSize":24,"fontWeight":"bold","align":"center","baseline":"alphabetic"},"encoding":{"x":{"datum":10.5},"y":{"datum":0.3},"text":{"field":"p"}}},
{"mark":{"type":"text","fontSize":16,"align":"right","baseline":"alphabetic","color":"#404040"},"encoding":{"x":{"datum":74},"y":{"datum":0.0055},"text":{"field":"n"}}},
{"mark":{"type":"text","fontSize":16,"align":"right","baseline":"alphabetic","fontStyle":"italic","color":"#404040"},"encoding":{"x":{"datum":74},"y":{"datum":0.0022},"text":{"field":"g"}}}]}]},
{"width":183,"height":148,"layer":[
{"data":{"name":"ctrl"},"mark":{"type":"line","strokeWidth":1.8,"invalid":"break-paths-filter-domains"},"encoding":{"x":{"field":"a","type":"quantitative","scale":{"domain":[0,80],"nice":false},"axis":{"title":null}},"y":{"field":"m","type":"quantitative","scale":{"type":"log","domain":[0.001,1],"nice":false},"axis":{"values":[0.001,0.002,0.003,0.004,0.005,0.006,0.007,0.008,0.009,0.01,0.02,0.03,0.04,0.05,0.06,0.07,0.08,0.09,0.1,0.2,0.3,0.4,0.5,0.6,0.7,0.8,0.9,1],"labelExpr":"datum.value==0.001||datum.value==0.01||datum.value==0.1||datum.value==1?format(datum.value,'.3f'):''","title":"Mortality Rate"}},"color":{"field":"s","type":"nominal"}}},
{"data":{"name":"I"},"mark":{"type":"line","strokeWidth":1.8,"invalid":"break-paths-filter-domains"},"encoding":{"x":{"field":"a","type":"quantitative"},"y":{"field":"m","type":"quantitative"},"color":{"field":"s","type":"nominal"}}},
{"data":{"values":[{"p":"I","n":"GX8331","g":"(CG33138)"}]},"layer":[
{"mark":{"type":"text","fontSize":24,"fontWeight":"bold","align":"center","baseline":"alphabetic"},"encoding":{"x":{"datum":10.5},"y":{"datum":0.3},"text":{"field":"p"}}},
{"mark":{"type":"text","fontSize":16,"align":"right","baseline":"alphabetic","color":"#404040"},"encoding":{"x":{"datum":74},"y":{"datum":0.0055},"text":{"field":"n"}}},
{"mark":{"type":"text","fontSize":16,"align":"right","baseline":"alphabetic","fontStyle":"italic","color":"#404040"},"encoding":{"x":{"datum":74},"y":{"datum":0.0022},"text":{"field":"g"}}}]}]},
{"width":183,"height":148,"layer":[
{"data":{"name":"ctrl"},"mark":{"type":"line","strokeWidth":1.8,"invalid":"break-paths-filter-domains"},"encoding":{"x":{"field":"a","type":"quantitative","scale":{"domain":[0,80],"nice":false},"axis":{"title":null}},"y":{"field":"m","type":"quantitative","scale":{"type":"log","domain":[0.001,1],"nice":false},"axis":{"values":[0.001,0.002,0.003,0.004,0.005,0.006,0.007,0.008,0.009,0.01,0.02,0.03,0.04,0.05,0.06,0.07,0.08,0.09,0.1,0.2,0.3,0.4,0.5,0.6,0.7,0.8,0.9,1],"labels":false,"title":null}},"color":{"field":"s","type":"nominal"}}},
{"data":{"name":"J"},"mark":{"type":"line","strokeWidth":1.8,"invalid":"break-paths-filter-domains"},"encoding":{"x":{"field":"a","type":"quantitative"},"y":{"field":"m","type":"quantitative"},"color":{"field":"s","type":"nominal"}}},
{"data":{"values":[{"p":"J","n":"GX47642-1","g":"(CG10383)"}]},"layer":[
{"mark":{"type":"text","fontSize":24,"fontWeight":"bold","align":"center","baseline":"alphabetic"},"encoding":{"x":{"datum":10.5},"y":{"datum":0.3},"text":{"field":"p"}}},
{"mark":{"type":"text","fontSize":16,"align":"right","baseline":"alphabetic","color":"#404040"},"encoding":{"x":{"datum":74},"y":{"datum":0.0055},"text":{"field":"n"}}},
{"mark":{"type":"text","fontSize":16,"align":"right","baseline":"alphabetic","fontStyle":"italic","color":"#404040"},"encoding":{"x":{"datum":74},"y":{"datum":0.0022},"text":{"field":"g"}}}]}]},
{"width":183,"height":148,"layer":[
{"data":{"name":"ctrl"},"mark":{"type":"line","strokeWidth":1.8,"invalid":"break-paths-filter-domains"},"encoding":{"x":{"field":"a","type":"quantitative","scale":{"domain":[0,80],"nice":false},"axis":{"title":null}},"y":{"field":"m","type":"quantitative","scale":{"type":"log","domain":[0.001,1],"nice":false},"axis":{"values":[0.001,0.002,0.003,0.004,0.005,0.006,0.007,0.008,0.009,0.01,0.02,0.03,0.04,0.05,0.06,0.07,0.08,0.09,0.1,0.2,0.3,0.4,0.5,0.6,0.7,0.8,0.9,1],"labels":false,"title":null}},"color":{"field":"s","type":"nominal"}}},
{"data":{"name":"K"},"mark":{"type":"line","strokeWidth":1.8,"invalid":"break-paths-filter-domains"},"encoding":{"x":{"field":"a","type":"quantitative"},"y":{"field":"m","type":"quantitative"},"color":{"field":"s","type":"nominal"}}},
{"data":{"values":[{"p":"K","n":"EP(3)1250","g":"(men)"}]},"layer":[
{"mark":{"type":"text","fontSize":24,"fontWeight":"bold","align":"center","baseline":"alphabetic"},"encoding":{"x":{"datum":10.5},"y":{"datum":0.3},"text":{"field":"p"}}},
{"mark":{"type":"text","fontSize":16,"align":"right","baseline":"alphabetic","color":"#404040"},"encoding":{"x":{"datum":74},"y":{"datum":0.0055},"text":{"field":"n"}}},
{"mark":{"type":"text","fontSize":16,"align":"right","baseline":"alphabetic","fontStyle":"italic","color":"#404040"},"encoding":{"x":{"datum":74},"y":{"datum":0.0022},"text":{"field":"g"}}}]}]},
{"width":183,"height":148,"layer":[
{"data":{"name":"ctrl"},"mark":{"type":"line","strokeWidth":1.8,"invalid":"break-paths-filter-domains"},"encoding":{"x":{"field":"a","type":"quantitative","scale":{"domain":[0,80],"nice":false},"axis":{"title":"Age (d)"}},"y":{"field":"m","type":"quantitative","scale":{"type":"log","domain":[0.001,1],"nice":false},"axis":{"values":[0.001,0.002,0.003,0.004,0.005,0.006,0.007,0.008,0.009,0.01,0.02,0.03,0.04,0.05,0.06,0.07,0.08,0.09,0.1,0.2,0.3,0.4,0.5,0.6,0.7,0.8,0.9,1],"labels":false,"title":null}},"color":{"field":"s","type":"nominal"}}},
{"data":{"name":"L"},"mark":{"type":"line","strokeWidth":1.8,"invalid":"break-paths-filter-domains"},"encoding":{"x":{"field":"a","type":"quantitative"},"y":{"field":"m","type":"quantitative"},"color":{"field":"s","type":"nominal"}}},
{"data":{"values":[{"p":"L","n":"EP(2)2086","g":"(CG30427)"}]},"layer":[
{"mark":{"type":"text","fontSize":24,"fontWeight":"bold","align":"center","baseline":"alphabetic"},"encoding":{"x":{"datum":10.5},"y":{"datum":0.3},"text":{"field":"p"}}},
{"mark":{"type":"text","fontSize":16,"align":"right","baseline":"alphabetic","color":"#404040"},"encoding":{"x":{"datum":74},"y":{"datum":0.0055},"text":{"field":"n"}}},
{"mark":{"type":"text","fontSize":16,"align":"right","baseline":"alphabetic","fontStyle":"italic","color":"#404040"},"encoding":{"x":{"datum":74},"y":{"datum":0.0022},"text":{"field":"g"}}}]}]},
{"width":183,"height":148,"layer":[
{"data":{"name":"ctrl"},"mark":{"type":"line","strokeWidth":1.8,"invalid":"break-paths-filter-domains"},"encoding":{"x":{"field":"a","type":"quantitative","scale":{"domain":[0,80],"nice":false},"axis":{"title":"Age (d)"}},"y":{"field":"m","type":"quantitative","scale":{"type":"log","domain":[0.001,1],"nice":false},"axis":{"values":[0.001,0.002,0.003,0.004,0.005,0.006,0.007,0.008,0.009,0.01,0.02,0.03,0.04,0.05,0.06,0.07,0.08,0.09,0.1,0.2,0.3,0.4,0.5,0.6,0.7,0.8,0.9,1],"labelExpr":"datum.value==0.001||datum.value==0.01||datum.value==0.1||datum.value==1?format(datum.value,'.3f'):''","title":"Mortality Rate"}},"color":{"field":"s","type":"nominal"}}},
{"data":{"name":"M"},"mark":{"type":"line","strokeWidth":1.8,"invalid":"break-paths-filter-domains"},"encoding":{"x":{"field":"a","type":"quantitative"},"y":{"field":"m","type":"quantitative"},"color":{"field":"s","type":"nominal"}}},
{"data":{"values":[{"p":"M","n":"GX5503","g":"(PGRP-LF)"}]},"layer":[
{"mark":{"type":"text","fontSize":24,"fontWeight":"bold","align":"center","baseline":"alphabetic"},"encoding":{"x":{"datum":10.5},"y":{"datum":0.3},"text":{"field":"p"}}},
{"mark":{"type":"text","fontSize":16,"align":"right","baseline":"alphabetic","color":"#404040"},"encoding":{"x":{"datum":74},"y":{"datum":0.0055},"text":{"field":"n"}}},
{"mark":{"type":"text","fontSize":16,"align":"right","baseline":"alphabetic","fontStyle":"italic","color":"#404040"},"encoding":{"x":{"datum":74},"y":{"datum":0.0022},"text":{"field":"g"}}}]}]},
{"width":183,"height":148,"layer":[
{"data":{"name":"ctrl"},"mark":{"type":"line","strokeWidth":1.8,"invalid":"break-paths-filter-domains"},"encoding":{"x":{"field":"a","type":"quantitative","scale":{"domain":[0,80],"nice":false},"axis":{"title":"Age (d)"}},"y":{"field":"m","type":"quantitative","scale":{"type":"log","domain":[0.001,1],"nice":false},"axis":{"values":[0.001,0.002,0.003,0.004,0.005,0.006,0.007,0.008,0.009,0.01,0.02,0.03,0.04,0.05,0.06,0.07,0.08,0.09,0.1,0.2,0.3,0.4,0.5,0.6,0.7,0.8,0.9,1],"labels":false,"title":null}},"color":{"field":"s","type":"nominal"}}},
{"data":{"name":"N"},"mark":{"type":"line","strokeWidth":1.8,"invalid":"break-paths-filter-domains"},"encoding":{"x":{"field":"a","type":"quantitative"},"y":{"field":"m","type":"quantitative"},"color":{"field":"s","type":"nominal"}}},
{"data":{"values":[{"p":"N","n":"GX2970-1","g":"(CG42663)"}]},"layer":[
{"mark":{"type":"text","fontSize":24,"fontWeight":"bold","align":"center","baseline":"alphabetic"},"encoding":{"x":{"datum":10.5},"y":{"datum":0.3},"text":{"field":"p"}}},
{"mark":{"type":"text","fontSize":16,"align":"right","baseline":"alphabetic","color":"#404040"},"encoding":{"x":{"datum":74},"y":{"datum":0.0055},"text":{"field":"n"}}},
{"mark":{"type":"text","fontSize":16,"align":"right","baseline":"alphabetic","fontStyle":"italic","color":"#404040"},"encoding":{"x":{"datum":74},"y":{"datum":0.0022},"text":{"field":"g"}}}]}]},
{"width":183,"height":148,"layer":[
{"data":{"name":"ctrl"},"mark":{"type":"line","strokeWidth":1.8,"invalid":"break-paths-filter-domains"},"encoding":{"x":{"field":"a","type":"quantitative","scale":{"domain":[0,80],"nice":false},"axis":{"title":"Age (d)"}},"y":{"field":"m","type":"quantitative","scale":{"type":"log","domain":[0.001,1],"nice":false},"axis":{"values":[0.001,0.002,0.003,0.004,0.005,0.006,0.007,0.008,0.009,0.01,0.02,0.03,0.04,0.05,0.06,0.07,0.08,0.09,0.1,0.2,0.3,0.4,0.5,0.6,0.7,0.8,0.9,1],"labels":false,"title":null}},"color":{"field":"s","type":"nominal"}}},
{"data":{"name":"O"},"mark":{"type":"line","strokeWidth":1.8,"invalid":"break-paths-filter-domains"},"encoding":{"x":{"field":"a","type":"quantitative"},"y":{"field":"m","type":"quantitative"},"color":{"field":"s","type":"nominal"}}},
{"data":{"values":[{"p":"O","n":"GX47642","g":"(CG10916)"}]},"layer":[
{"mark":{"type":"text","fontSize":24,"fontWeight":"bold","align":"center","baseline":"alphabetic"},"encoding":{"x":{"datum":10.5},"y":{"datum":0.3},"text":{"field":"p"}}},
{"mark":{"type":"text","fontSize":16,"align":"right","baseline":"alphabetic","color":"#404040"},"encoding":{"x":{"datum":74},"y":{"datum":0.0055},"text":{"field":"n"}}},
{"mark":{"type":"text","fontSize":16,"align":"right","baseline":"alphabetic","fontStyle":"italic","color":"#404040"},"encoding":{"x":{"datum":74},"y":{"datum":0.0022},"text":{"field":"g"}}}]}]}
],
"config":{
"font":"Liberation Sans",
"view":{"stroke":null},
"axis":{"grid":false,"domainColor":"#000000","tickColor":"#000000","tickSize":3,"labelFontSize":12,"labelColor":"#222222","labelPadding":2,"titleFontWeight":"normal","titleColor":"#000000"},
"axisX":{"tickCount":4,"titleFontSize":20,"titlePadding":2},
"axisY":{"titleFontSize":19,"titlePadding":6,"labelOverlap":false}
}
}
